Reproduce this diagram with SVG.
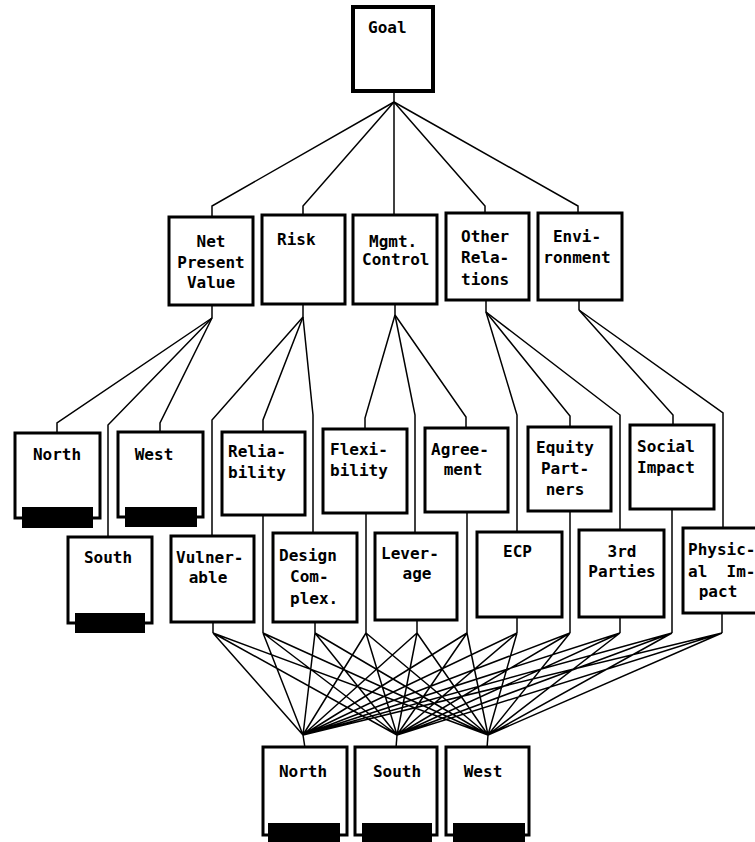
<svg xmlns="http://www.w3.org/2000/svg" width="755" height="842" viewBox="0 0 755 842">
  <style>
    .box { fill: #ffffff; stroke: #000000; stroke-width: 3; }
    .bar { fill: #000000; }
    .lbl { font-family: "DejaVu Sans Mono", "Liberation Mono", monospace; font-weight: bold; font-size: 16px; fill: #000000; }
    .c { text-anchor: middle; }
    .wire { fill: none; stroke: #000000; stroke-width: 1.5; stroke-linejoin: miter; }
  </style>
  <rect width="755" height="842" fill="#ffffff"/>

  <!-- connectors -->
  <g id="connectors" class="wire">
    <!-- goal to criteria -->
    <polyline points="394,91 394,102"/>
    <polyline points="394,102 212,206 212,216"/>
    <polyline points="394,102 303,206 303,215"/>
    <polyline points="394,102 394,215"/>
    <polyline points="394,102 485,206 485,213"/>
    <polyline points="394,102 578,206 578,213"/>
    <!-- Net Present Value -->
    <polyline points="212,305 212,318"/>
    <polyline points="212,318 57,423 57,433"/>
    <polyline points="212,318 108,425 108,537"/>
    <polyline points="212,318 160,423 160,432"/>
    <!-- Risk -->
    <polyline points="303,304 303,317"/>
    <polyline points="303,317 212,420 212,536"/>
    <polyline points="303,317 263,420 263,432"/>
    <polyline points="303,317 313,415 313,533"/>
    <!-- Mgmt. Control -->
    <polyline points="395,304 395,315"/>
    <polyline points="395,315 365,418 365,429"/>
    <polyline points="395,315 415,415 415,533"/>
    <polyline points="395,315 466,417 466,428"/>
    <!-- Other Relations -->
    <polyline points="486,300 486,312"/>
    <polyline points="486,312 517,415 517,532"/>
    <polyline points="486,312 570,416 570,427"/>
    <polyline points="486,312 620,415 620,530"/>
    <!-- Environment -->
    <polyline points="579,300 579,310"/>
    <polyline points="579,310 673,415 673,425"/>
    <polyline points="579,310 723,413 723,528"/>
    <!-- sub-criteria down to junctions -->
    <polyline points="213,622 213,633"/>
    <polyline points="263,515 263,633"/>
    <polyline points="315,622 315,633"/>
    <polyline points="366,513 366,633"/>
    <polyline points="417,620 417,633"/>
    <polyline points="467,512 467,633"/>
    <polyline points="517,617 517,633"/>
    <polyline points="570,511 570,633"/>
    <polyline points="620,617 620,633"/>
    <polyline points="672,509 672,633"/>
    <polyline points="722,613 722,633"/>
    <!-- junctions to alternatives -->
    <path d="M213,633 L303,735 M213,633 L397,735 M213,633 L488,735
             M263,633 L303,735 M263,633 L397,735 M263,633 L488,735
             M315,633 L303,735 M315,633 L397,735 M315,633 L488,735
             M366,633 L303,735 M366,633 L397,735 M366,633 L488,735
             M417,633 L303,735 M417,633 L397,735 M417,633 L488,735
             M467,633 L303,735 M467,633 L397,735 M467,633 L488,735
             M517,633 L303,735 M517,633 L397,735 M517,633 L488,735
             M570,633 L303,735 M570,633 L397,735 M570,633 L488,735
             M620,633 L303,735 M620,633 L397,735 M620,633 L488,735
             M672,633 L303,735 M672,633 L397,735 M672,633 L488,735
             M722,633 L303,735 M722,633 L397,735 M722,633 L488,735"/>
    <polyline points="303,735 305,748"/>
    <polyline points="397,735 396,748"/>
    <polyline points="488,735 487,748"/>
  </g>

  <!-- top -->
  <g id="goal">
    <rect class="box" x="353" y="7" width="80" height="84" style="stroke-width:4"/>
    <text class="lbl" x="368" y="33">Goal</text>
  </g>

  <!-- criteria -->
  <g id="net-present-value">
    <rect class="box" x="169" y="217" width="84" height="88"/>
    <text class="lbl c" x="211" y="247">Net</text>
    <text class="lbl c" x="211" y="268">Present</text>
    <text class="lbl c" x="211" y="288">Value</text>
  </g>
  <g id="risk">
    <rect class="box" x="262" y="215" width="83" height="89"/>
    <text class="lbl" x="277" y="245">Risk</text>
  </g>
  <g id="mgmt-control">
    <rect class="box" x="353" y="215" width="84" height="89"/>
    <text class="lbl" x="369" y="247">Mgmt.</text>
    <text class="lbl" x="362" y="265">Control</text>
  </g>
  <g id="other-relations">
    <rect class="box" x="446" y="213" width="83" height="87"/>
    <text class="lbl" x="461" y="242">Other</text>
    <text class="lbl" x="461" y="263">Rela-</text>
    <text class="lbl" x="461" y="285">tions</text>
  </g>
  <g id="environment">
    <rect class="box" x="538" y="213" width="84" height="87"/>
    <text class="lbl c" x="577" y="242">Envi-</text>
    <text class="lbl c" x="577" y="263">ronment</text>
  </g>

  <!-- sub-criteria, upper row -->
  <g id="npv-north">
    <rect class="box" x="15" y="433" width="85" height="85"/>
    <rect class="bar" x="22" y="507" width="71" height="21"/>
    <text class="lbl c" x="57" y="460">North</text>
  </g>
  <g id="npv-west">
    <rect class="box" x="118" y="432" width="85" height="85"/>
    <rect class="bar" x="125" y="507" width="72" height="20"/>
    <text class="lbl c" x="154" y="460">West</text>
  </g>
  <g id="reliability">
    <rect class="box" x="222" y="432" width="83" height="83"/>
    <text class="lbl" x="228" y="457">Relia-</text>
    <text class="lbl" x="228" y="478">bility</text>
  </g>
  <g id="flexibility">
    <rect class="box" x="323" y="429" width="84" height="84"/>
    <text class="lbl" x="330" y="455">Flexi-</text>
    <text class="lbl" x="330" y="476">bility</text>
  </g>
  <g id="agreement">
    <rect class="box" x="425" y="428" width="83" height="84"/>
    <text class="lbl" x="431" y="455">Agree-</text>
    <text class="lbl c" x="463" y="475">ment</text>
  </g>
  <g id="equity-partners">
    <rect class="box" x="528" y="427" width="83" height="84"/>
    <text class="lbl c" x="565" y="453">Equity</text>
    <text class="lbl c" x="565" y="474">Part-</text>
    <text class="lbl c" x="565" y="495">ners</text>
  </g>
  <g id="social-impact">
    <rect class="box" x="630" y="425" width="84" height="84"/>
    <text class="lbl" x="637" y="452">Social</text>
    <text class="lbl" x="637" y="473">Impact</text>
  </g>

  <!-- sub-criteria, lower row -->
  <g id="npv-south">
    <rect class="box" x="68" y="537" width="84" height="86"/>
    <rect class="bar" x="75" y="613" width="70" height="20"/>
    <text class="lbl c" x="108" y="563">South</text>
  </g>
  <g id="vulnerable">
    <rect class="box" x="171" y="536" width="83" height="86"/>
    <text class="lbl" x="176" y="563">Vulner-</text>
    <text class="lbl c" x="208" y="583">able</text>
  </g>
  <g id="design-complex">
    <rect class="box" x="273" y="533" width="84" height="89"/>
    <text class="lbl" x="279" y="561">Design</text>
    <text class="lbl" x="290" y="582">Com-</text>
    <text class="lbl" x="290" y="604">plex.</text>
  </g>
  <g id="leverage">
    <rect class="box" x="375" y="533" width="82" height="87"/>
    <text class="lbl" x="381" y="559">Lever-</text>
    <text class="lbl c" x="417" y="579">age</text>
  </g>
  <g id="ecp">
    <rect class="box" x="477" y="532" width="85" height="85"/>
    <text class="lbl" x="503" y="557">ECP</text>
  </g>
  <g id="third-parties">
    <rect class="box" x="579" y="530" width="85" height="87"/>
    <text class="lbl c" x="622" y="557">3rd</text>
    <text class="lbl c" x="622" y="577">Parties</text>
  </g>
  <g id="physical-impact">
    <rect class="box" x="683" y="528" width="80" height="85"/>
    <text class="lbl" x="688" y="555">Physic-</text>
    <text class="lbl" x="688" y="577" xml:space="preserve">al  Im-</text>
    <text class="lbl c" x="718" y="597">pact</text>
  </g>

  <!-- alternatives -->
  <g id="alt-north">
    <rect class="box" x="263" y="747" width="84" height="88"/>
    <rect class="bar" x="268" y="823" width="72" height="19"/>
    <text class="lbl c" x="303" y="777">North</text>
  </g>
  <g id="alt-south">
    <rect class="box" x="355" y="747" width="82" height="88"/>
    <rect class="bar" x="362" y="823" width="70" height="19"/>
    <text class="lbl c" x="397" y="777">South</text>
  </g>
  <g id="alt-west">
    <rect class="box" x="446" y="747" width="83" height="88"/>
    <rect class="bar" x="453" y="823" width="72" height="19"/>
    <text class="lbl c" x="483" y="777">West</text>
  </g>
</svg>
